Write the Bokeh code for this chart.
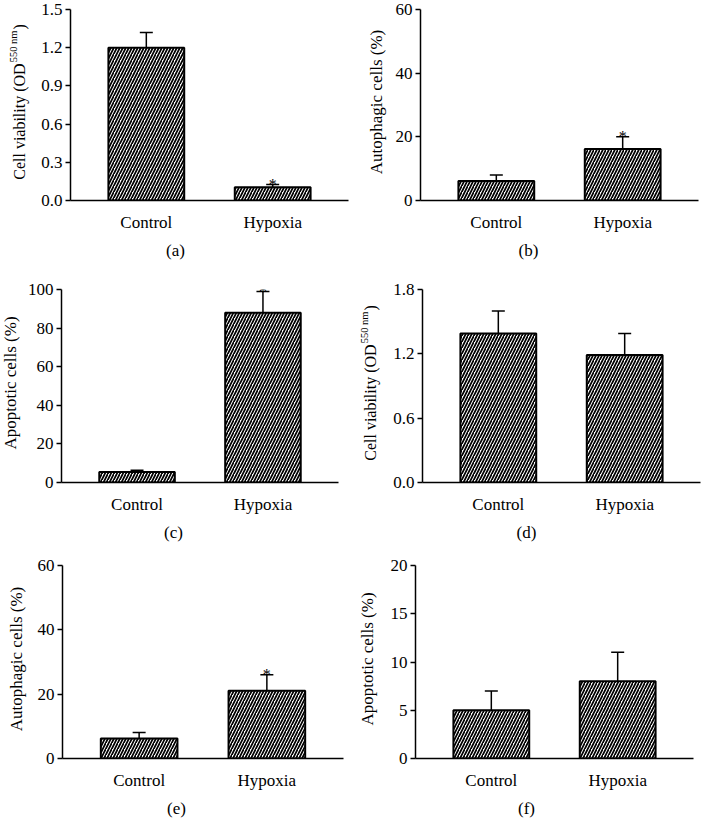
import math
from bokeh.plotting import figure
from bokeh.layouts import column, row
from bokeh.models import (ColumnDataSource, FactorRange, Range1d, FixedTicker,
                          NumeralTickFormatter, Whisker, TeeHead, Label)
from bokeh.core.properties import value
from bokeh.embed import file_html
from bokeh.resources import INLINE

# ---------------- data ----------------
groups = ["Control", "Hypoxia"]

a_mean = [1.20, 0.105]
a_err = [0.12, 0.02]
a_star = ["", "*"]

b_mean = [6.1, 16.2]
b_err = [1.9, 3.8]
b_star = ["", "*"]

c_mean = [5.5, 88.0]
c_err = [0.8, 11.0]
c_star = ["", "*"]

d_mean = [1.39, 1.19]
d_err = [0.21, 0.20]
d_star = ["", ""]

e_mean = [6.2, 21.1]
e_err = [1.9, 4.9]
e_star = ["", "*"]

f_mean = [5.0, 8.0]
f_err = [2.0, 3.0]
f_star = ["", ""]

a_ticks = [0.0, 0.3, 0.6, 0.9, 1.2, 1.5]
b_ticks = [0, 20, 40, 60]
c_ticks = [0, 20, 40, 60, 80, 100]
d_ticks = [0.0, 0.6, 1.2, 1.8]
e_ticks = [0, 20, 40, 60]
f_ticks = [0, 5, 10, 15, 20]

label_viab = ["Cell viability (OD", "550 nm", ")"]
label_auto = "Autophagic cells (%)"
label_apop = "Apoptotic cells (%)"
panel_letters = ["(a)", "(b)", "(c)", "(d)", "(e)", "(f)"]

# ---------------- style ----------------
FONT = "Liberation Serif"
FS = 17
PAD = 0.1

TW = {' ': 250, '(': 333, ')': 333, 'C': 667, 'D': 722, 'O': 722, 'e': 444,
      'l': 278, 'v': 500, 'i': 278, 'a': 444, 'b': 500, 't': 278, 'y': 500,
      'n': 500, 'm': 778, '0': 500, '5': 500}


def tw(s, px):
    return sum(TW.get(c, 500) for c in s) * px / 1000.0


def blank(w, h):
    f = figure(width=w, height=h, x_range=Range1d(0, w), y_range=Range1d(0, h),
               x_axis_type=None, y_axis_type=None, output_backend="svg",
               toolbar_location=None, tools="")
    f.min_border_left = 0
    f.min_border_right = 0
    f.min_border_top = 0
    f.min_border_bottom = 0
    f.outline_line_color = None
    f.xgrid.visible = False
    f.ygrid.visible = False
    f.background_fill_color = "white"
    f.border_fill_color = "white"
    return f


def ylabel_fig(ylabel, w, h, bt, bb, bx):
    # frame of this figure is aligned with the neighbouring plot's frame
    f = blank(w, h)
    ymid = (h - bt - bb) / 2.0
    common = dict(x_units="screen", y_units="screen", angle=math.pi / 2,
                  text_font=FONT, text_color="black", text_baseline="alphabetic")
    if isinstance(ylabel, list):
        p1, p2, p3 = ylabel
        m, s_ = 16, 10.5
        w1, w2, w3 = tw(p1, m), tw(p2, s_), tw(p3, m)
        L = w1 + 1 + w2 + 1 + w3
        s = ymid - L / 2
        f.add_layout(Label(text=p1, x=bx, y=s, text_align="left",
                           text_font_size=f"{m}px", **common))
        f.add_layout(Label(text=p2, x=bx - 6, y=s + w1 + 1, text_align="left",
                           text_font_size=f"{s_}px", **common))
        f.add_layout(Label(text=p3, x=bx, y=s + w1 + w2 + 2, text_align="left",
                           text_font_size=f"{m}px", **common))
    else:
        f.add_layout(Label(text=ylabel, x=bx, y=ymid, text_align="center",
                           text_font_size=f"{FS}px", **common))
    return f


def panel(means, errs, stars, ticks, fmt, w, h, bl, br, bt, bb):
    src = ColumnDataSource(dict(
        x=groups, top=means,
        upper=[m + e for m, e in zip(means, errs)],
        star=stars))
    p = figure(x_range=FactorRange(factors=groups, range_padding=PAD,
                                   range_padding_units="absolute"),
               y_range=Range1d(0, ticks[-1]),
               width=w, height=h, output_backend="svg",
               toolbar_location=None, tools="")
    p.min_border_left = bl
    p.min_border_right = br
    p.min_border_top = bt
    p.min_border_bottom = bb
    p.outline_line_color = None
    p.background_fill_color = "white"
    p.border_fill_color = "white"
    p.xgrid.visible = False
    p.ygrid.visible = False

    p.vbar(x="x", top="top", width=0.6, source=src, fill_color="white",
           line_color="black", line_width=2, hatch_pattern="/",
           hatch_color="black", hatch_scale=6, hatch_weight=1.7)

    wk = Whisker(source=src, base="x", upper="upper", lower="top",
                 dimension="height", line_color="black", line_width=1.5,
                 upper_head=TeeHead(size=13, line_color="black", line_width=1.5),
                 lower_head=None, level="glyph")
    p.add_layout(wk)

    p.text(x="x", y="upper", text="star", source=src, text_align="center",
           text_baseline="alphabetic", text_font=value(FONT),
           text_font_size="16px", text_color="black")

    for ax in (p.xaxis[0], p.yaxis[0]):
        ax.axis_line_color = "black"
        ax.axis_line_width = 1.5
        ax.major_label_text_font = FONT
        ax.major_label_text_font_size = f"{FS}px"
        ax.major_label_text_color = "black"
        ax.minor_tick_line_color = None
    p.xaxis.major_tick_line_color = None
    p.xaxis.major_label_standoff = 6
    p.yaxis.ticker = FixedTicker(ticks=ticks)
    p.yaxis.major_tick_line_color = "black"
    p.yaxis.major_tick_line_width = 1.5
    p.yaxis.major_tick_out = 5
    p.yaxis.major_tick_in = 0
    p.yaxis.major_label_standoff = 3
    if fmt:
        p.yaxis.formatter = NumeralTickFormatter(format=fmt)
    return p


def letters_fig(l1, l2, x1, x2, h, yb):
    f = blank(701, h)
    for t, x in ((l1, x1), (l2, x2)):
        f.add_layout(Label(text=t, x=x, y=yb, x_units="screen", y_units="screen",
                           text_align="center", text_baseline="middle",
                           text_font=FONT, text_font_size=f"{FS}px",
                           text_color="black"))
    return f


# row 1
H1, T1, B1 = 234, 9, 28
ya = ylabel_fig(label_viab, 36, H1, T1, B1, 19)
pa = panel(a_mean, a_err, a_star, a_ticks, "0.0", 314, H1, 34, 2, T1, B1)
yb = ylabel_fig(label_auto, 40, H1, T1, B1, 26)
pb = panel(b_mean, b_err, b_star, b_ticks, None, 311, H1, 30, 3, T1, B1)
l1 = letters_fig(panel_letters[0], panel_letters[1], 175, 528, 36, 20)

# row 2
H2, T2, B2 = 246, 19, 28
yc = ylabel_fig(label_apop, 24, H2, T2, B2, 10)
pc = panel(c_mean, c_err, c_star, c_ticks, None, 326, H2, 36, 12, T2, B2)
yd = ylabel_fig(label_viab, 40, H2, T2, B2, 20)
pd = panel(d_mean, d_err, d_star, d_ticks, "0.0", 311, H2, 32, 1, T2, B2)
l2 = letters_fig(panel_letters[2], panel_letters[3], 173, 526, 29, 13)

# row 3
H3, T3, B3 = 247, 20, 28
ye = ylabel_fig(label_auto, 34, H3, T3, B3, 16)
pe = panel(e_mean, e_err, e_star, e_ticks, None, 316, H3, 28, 7, T3, B3)
yf = ylabel_fig(label_apop, 37, H3, T3, B3, 17)
pf = panel(f_mean, f_err, f_star, f_ticks, None, 314, H3, 28, 8, T3, B3)
l3 = letters_fig(panel_letters[4], panel_letters[5], 176, 526, 26, 10)

layout = column(row(ya, pa, yb, pb), l1,
                row(yc, pc, yd, pd), l2,
                row(ye, pe, yf, pf), l3)

with open("out.html", "w") as fh:
    fh.write(file_html(layout, INLINE))
